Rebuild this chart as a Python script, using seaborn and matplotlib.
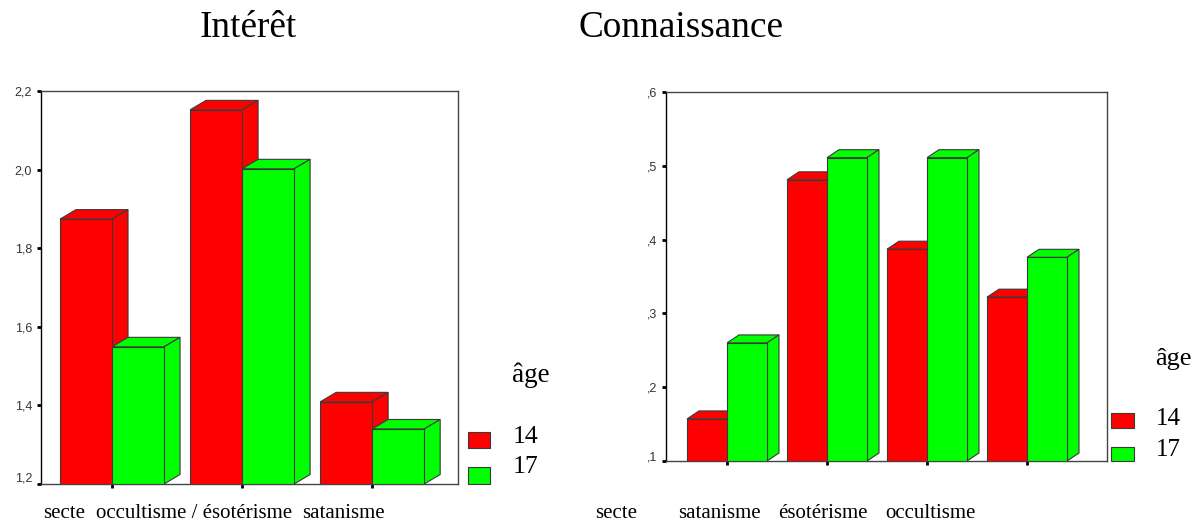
import matplotlib
matplotlib.use("Agg")
import matplotlib.pyplot as plt
import matplotlib.transforms as mtrans
import pandas as pd
import seaborn as sns
from matplotlib.patches import Polygon, Rectangle

W, H = 1193, 524

ages = ["14", "17"]
colors = ["#ff0000", "#00ff00"]

left_categories = ["secte", "occultisme / ésotérisme", "satanisme"]
left_14 = [1.874, 2.152, 1.409]
left_17 = [1.549, 2.002, 1.340]
left_ticks = [1.2, 1.4, 1.6, 1.8, 2.0, 2.2]
left_ticklabels = ["1,2", "1,4", "1,6", "1,8", "2,0", "2,2"]

right_categories = ["secte", "satanisme", "ésotérisme", "occultisme"]
right_14 = [0.157, 0.481, 0.387, 0.322]
right_17 = [0.260, 0.511, 0.511, 0.376]
right_ticks = [0.1, 0.2, 0.3, 0.4, 0.5, 0.6]
right_ticklabels = [",1", ",2", ",3", ",4", ",5", ",6"]

sns.set_theme(style="white")
plt.rcParams["font.family"] = ["Liberation Serif", "DejaVu Serif"]

fig = plt.figure(figsize=(W / 100, H / 100), dpi=100)


def add_axes_px(x0, y0, x1, y1):
    return fig.add_axes([x0 / W, 1 - y1 / H, (x1 - x0) / W, (y1 - y0) / H])


def fig_text(x, y, s, size, **kw):
    fig.text(x / W, 1 - y / H, s, fontsize=size, color="black", va="center", **kw)


def fig_box(x0, y0, x1, y1, color):
    fig.add_artist(Rectangle((x0 / W, 1 - y1 / H), (x1 - x0) / W, (y1 - y0) / H,
                             transform=fig.transFigure, facecolor=color,
                             edgecolor="#3a3a3a", linewidth=0.8))


def bars_3d(ax, categories, v14, v17, ticks, ticklabels, xlim, depth, raise_first):
    df = pd.DataFrame({
        "cat": categories * 2,
        "age": [ages[0]] * len(categories) + [ages[1]] * len(categories),
        "val": v14 + v17,
    })
    # bars start at the bottom of the axis, not at zero
    base = ticks[0]
    df["height"] = df["val"] - base
    sns.barplot(data=df, x="cat", y="height", hue="age", hue_order=ages,
                palette=colors, saturation=1, width=0.8, bottom=base,
                edgecolor="#3a3a3a", linewidth=0.8, legend=False, ax=ax, errorbar=None)
    ax.set_xlim(*xlim)
    ax.set_ylim(ticks[0], ticks[-1])

    # depth of the fake 3D block, in data units
    bbox = ax.get_window_extent()
    dx = depth[0] * (xlim[1] - xlim[0]) / bbox.width
    dy = depth[1] * (ticks[-1] - ticks[0]) / bbox.height

    n = len(categories)
    for i, bar in enumerate(ax.patches[:2 * n]):
        group = i % n
        z = 3 + group * 4 + (i // n) * 2
        x0, x1 = bar.get_x(), bar.get_x() + bar.get_width()
        y0, y1 = bar.get_y(), bar.get_y() + bar.get_height()
        col = bar.get_facecolor()
        bar.set_zorder(z + 1)
        ax.add_patch(Polygon([(x0, y1), (x0 + dx, y1 + dy), (x1 + dx, y1 + dy), (x1, y1)],
                             facecolor=col, edgecolor="#3a3a3a", linewidth=0.8, zorder=z))
        ax.add_patch(Polygon([(x1, y0), (x1 + dx, y0 + dy), (x1 + dx, y1 + dy), (x1, y1)],
                             facecolor=col, edgecolor="#3a3a3a", linewidth=0.8, zorder=z))

    ax.set_xlabel("")
    ax.set_ylabel("")
    ax.set_xticks(range(n))
    ax.set_xticklabels([])
    ax.set_yticks(ticks)
    ax.set_yticklabels(ticklabels, fontsize=9, family="Liberation Sans", color="#333333")
    ax.tick_params(axis="both", which="major", left=True, bottom=True, length=3, width=2,
                   color="black", pad=3.5)
    # the lowest label sits a little above its tick
    lowest = ax.get_yticklabels()[0]
    lowest.set_transform(lowest.get_transform() + mtrans.Affine2D().translate(0, raise_first))
    for side in ax.spines.values():
        side.set_color("#444444")
        side.set_linewidth(1.0)
        side.set_visible(True)
    ax.spines["left"].set_color("black")


ax1 = add_axes_px(41, 91, 458, 484)
bars_3d(ax1, left_categories, left_14, left_17, left_ticks, left_ticklabels,
        (-0.546, 2.66), (16, 9.5), 7)

ax2 = add_axes_px(666, 92, 1107, 461)
bars_3d(ax2, right_categories, right_14, right_17, right_ticks, right_ticklabels,
        (-0.61, 3.80), (12, 8), 5)

# titles
fig_text(200, 28, "Intérêt", 26.8)
fig_text(578, 28, "Connaissance", 26.8)

# category labels sit under the axes as typed on the slide
fig_text(43, 514, left_categories[0], 15)
fig_text(96, 514, left_categories[1], 15)
fig_text(302, 514, left_categories[2], 15)
for x, name in zip([595, 678, 778, 885], right_categories):
    fig_text(x, 514, name, 15)

# legends
fig_text(512, 375, "âge", 19.5)
fig_box(468, 432, 490, 448, colors[0])
fig_box(468, 467, 490, 484, colors[1])
fig_text(513, 437, ages[0], 18.5)
fig_text(513, 467, ages[1], 18.5)

fig_text(1155, 359, "âge", 19)
fig_box(1111, 413, 1134, 428, colors[0])
fig_box(1111, 447, 1134, 461, colors[1])
fig_text(1156, 419, ages[0], 18)
fig_text(1156, 450, ages[1], 18)

fig.savefig("out.png", dpi=100, facecolor="white")
